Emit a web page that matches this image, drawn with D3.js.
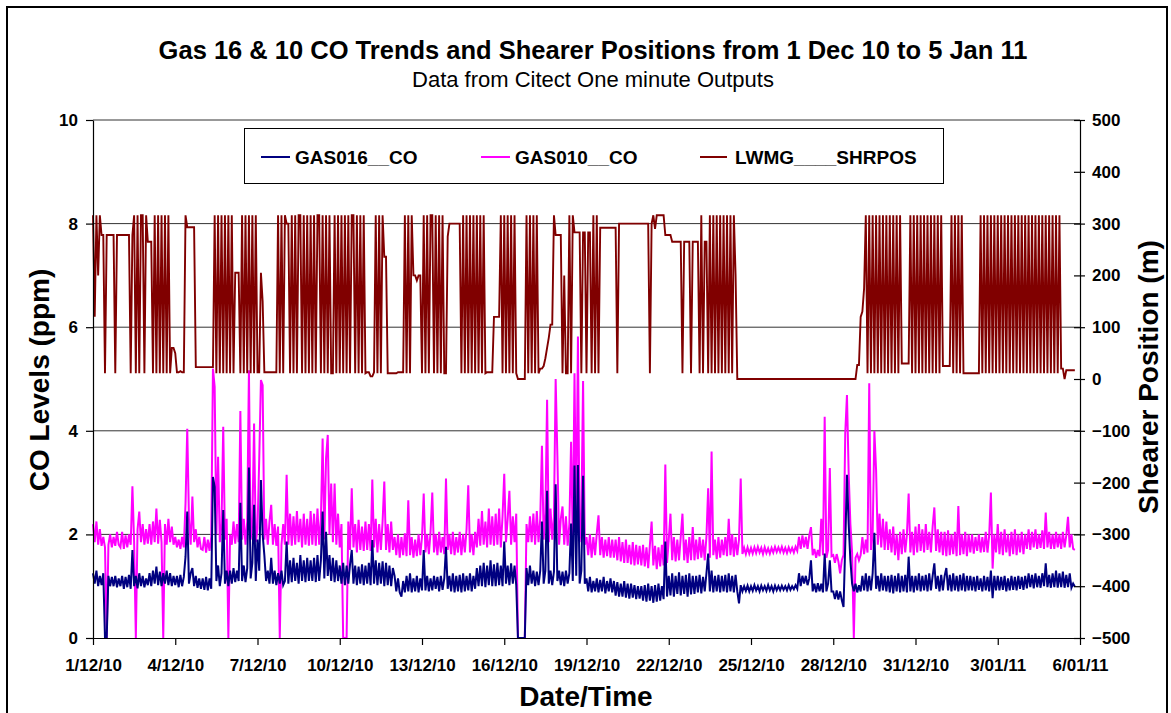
<!DOCTYPE html>
<html><head><meta charset="utf-8">
<script src="https://cdnjs.cloudflare.com/ajax/libs/d3/7.8.5/d3.min.js"></script>
<style>
body{margin:0;background:#fff}
svg text{font-family:"Liberation Sans",Arial,Helvetica,sans-serif}
</style>
</head><body>
<svg id="c" width="1171" height="713"></svg>
<script>
// ---------------- data ----------------
const titleText = "Gas 16 & 10 CO Trends and Shearer Positions from 1 Dec 10 to 5 Jan 11";
const subtitleText = "Data from Citect One minute Outputs";
const seriesNames = ["GAS016__CO", "GAS010__CO", "LWMG____SHRPOS"];
const xTickLabels = ["1/12/10","4/12/10","7/12/10","10/12/10","13/12/10","16/12/10","19/12/10","22/12/10","25/12/10","28/12/10","31/12/10","3/01/11","6/01/11"];
const leftTicks = [0,2,4,6,8,10];
const rightTicks = [-500,-400,-300,-200,-100,0,100,200,300,400,500];
const sampleStepMinutes = 90; // readings every 1.5 hours starting 1/12/10 00:00 (16 per day)

// GAS016__CO (ppm), one row per day
const gas016 = [
1.25,1.05,1.3,1.0,1.2,1.02,1.25,0,0,1.2,1.0,1.18,1.0,1.2,0.98,1.15,
1.0,1.2,0.95,1.18,0.98,1.22,0.95,1.7,1.0,1.2,0.96,1.25,1.0,1.2,0.98,1.15,
1.02,1.25,1.0,1.3,1.05,1.38,1.02,1.28,1.0,1.25,1.05,1.3,1.02,1.25,1.0,1.2,
1.02,1.2,0.98,1.22,1.0,1.18,1.57,2.44,1.05,1.25,1.35,1.0,1.2,0.97,1.15,0.95,
1.15,0.93,1.18,0.92,1.15,0.95,3.11,2.92,1.1,1.4,1.0,1.25,2.47,1.05,1.3,1.0,
1.3,1.05,1.35,1.08,1.3,1.1,2.61,1.1,1.4,1.08,1.35,3.29,1.15,1.45,2.57,1.1,
1.9,1.3,3.05,2.0,1.6,1.1,1.3,1.05,1.55,1.05,1.3,1.02,1.25,1.05,1.3,1.02,
1.1,1.86,1.05,1.5,1.08,1.55,1.1,1.45,1.05,1.6,1.1,1.5,1.08,1.55,1.1,1.5,
1.1,1.55,1.08,1.6,1.1,1.5,2.44,1.15,2.05,1.2,1.6,1.1,1.55,1.08,1.5,1.1,
1.4,1.05,1.45,1.02,1.4,1.05,1.42,1.7,1.05,1.4,1.02,1.38,1.05,1.42,1.02,1.4,
1.05,1.45,1.02,1.89,1.05,1.5,1.02,1.45,1.05,1.48,1.0,1.45,1.02,1.4,1.0,1.35,
1.2,0.9,1.15,0.88,0.8,1.1,0.88,1.2,0.9,1.25,0.88,1.15,0.9,1.2,0.88,1.15,
0.92,1.7,0.92,1.2,0.9,1.15,0.92,1.2,0.95,1.18,0.9,1.2,0.93,1.15,1.76,0.95,
1.2,0.9,1.25,0.88,1.2,0.9,1.22,0.88,1.25,0.9,1.2,0.92,1.25,0.9,1.2,0.95,
1.35,1.0,1.4,1.0,1.45,0.98,1.4,1.02,1.5,1.0,1.42,1.0,1.45,1.02,1.4,1.0,
1.86,1.05,1.4,1.02,1.44,1.05,1.4,1.02,0,0,0,0,0,1.35,1.02,1.4,
1.05,1.3,1.0,1.28,1.02,1.3,2.25,1.05,1.3,2.84,1.05,1.3,1.02,1.28,2.97,1.1,
1.3,1.02,1.28,1.0,1.3,1.05,1.25,2.21,1.1,3.33,1.2,3.34,1.05,1.3,3.13,1.05,
1.15,0.9,1.18,0.88,1.1,0.9,1.15,0.88,1.12,0.9,1.18,0.86,1.1,0.9,1.15,0.88,
1.1,0.82,1.08,0.8,1.05,0.8,1.1,0.78,1.05,0.76,1.05,0.78,1.02,0.75,1.0,0.76,
1.0,0.72,1.02,0.7,1.05,0.72,1.0,0.68,1.02,0.7,1.05,0.72,1.0,0.75,1.86,0.8,
1.2,0.82,1.25,0.8,1.2,0.85,1.27,0.82,1.2,0.85,1.22,0.8,1.25,0.84,1.2,0.85,
1.2,0.88,1.22,0.86,1.18,0.9,1.25,1.63,0.9,1.3,0.88,1.2,0.9,1.22,0.88,1.2,
0.9,1.22,0.88,1.25,0.9,1.2,0.88,1.22,0.9,0.67,1.02,0.9,1.0,0.91,1.01,0.9,
1.0,0.91,1.02,0.92,1.0,0.9,1.01,0.92,1.0,0.91,1.02,0.92,1.0,0.9,1.01,0.92,
1.0,0.92,1.01,0.93,1.0,0.92,1.02,0.93,1.0,0.94,1.02,0.95,1.25,1.0,1.2,1.05,
1.2,1.02,1.15,1.5,0.9,1.05,0.88,1.06,0.9,1.05,0.88,1.63,0.9,1.05,1.5,0.9,
0.9,0.75,0.92,0.74,0.9,0.73,0.6,1.8,3.15,2.2,1.5,1.05,0.9,1.05,0.88,1.02,
0.9,1.2,0.92,1.25,0.9,1.2,0.92,1.25,2.03,0.95,1.2,0.9,1.25,0.92,1.2,0.9,
1.2,0.88,1.22,0.86,1.2,0.9,1.25,0.88,1.2,0.9,1.22,0.88,1.57,0.9,1.2,0.88,
1.2,0.92,1.25,0.9,1.2,0.92,1.22,0.9,1.25,0.92,1.2,1.44,0.95,1.2,0.9,1.22,
0.92,1.2,1.35,0.92,1.22,0.9,1.25,0.92,1.2,0.9,1.22,0.92,1.25,0.9,1.2,0.92,
1.2,0.92,1.18,0.9,1.2,0.93,1.15,0.9,1.2,0.92,1.18,0.9,1.3,0.77,1.2,0.92,
1.2,0.92,1.18,0.93,1.2,0.9,1.15,0.92,1.2,0.93,1.18,0.92,1.2,0.95,1.18,0.93,
1.2,0.96,1.25,0.98,1.22,0.96,1.25,0.98,1.2,0.97,1.25,1.0,1.44,0.98,1.22,0.97,
1.25,0.98,1.3,0.97,1.25,0.98,1.28,0.97,1.22,0.98,1.25,0.97,1.05,0.99
];

// GAS010__CO (ppm), one row per day
const gas010 = [
2.2,1.85,2.25,1.8,2.1,1.78,1.95,1.75,0,1.8,2.0,1.75,1.95,1.78,2.05,1.8,
1.75,2.05,1.72,1.98,1.75,2.0,1.8,2.93,1.85,0,2.1,2.44,1.85,2.2,1.8,2.1,
1.82,2.2,1.8,2.25,1.85,2.5,1.82,2.28,1.85,0,2.2,1.8,2.3,1.85,2.15,1.8,
1.95,1.75,1.9,1.72,1.95,1.75,2.6,4.04,2.3,1.8,2.73,1.85,2.1,1.75,1.95,1.72,
1.7,1.95,1.65,1.9,1.68,1.95,5.2,4.85,2.0,3.5,1.85,2.2,4.08,1.9,2.3,0,
2.0,1.8,2.25,1.82,2.2,1.85,4.38,1.9,2.3,1.8,2.25,5.17,1.9,2.2,4.14,1.85,
2.1,3.44,4.98,4.88,1.9,2.3,1.8,2.25,2.57,1.8,2.2,1.78,2.15,0,1.8,2.2,
1.8,3.15,1.8,2.4,1.78,2.35,1.8,2.45,1.85,2.3,1.75,2.4,1.8,2.3,1.78,2.45,
1.8,2.4,1.78,2.5,1.8,2.3,3.85,1.9,3.47,3.92,2.0,2.98,1.85,2.98,1.8,2.4,
1.75,2.2,0,0,0,2.25,1.7,2.89,1.75,2.2,1.65,2.28,1.7,2.15,1.68,2.25,
1.7,2.2,1.68,3.06,1.75,2.3,1.65,2.2,1.7,2.25,3.02,1.7,2.2,1.65,2.25,1.7,
1.95,1.6,2.0,1.55,1.95,1.6,2.02,1.58,2.66,1.6,1.95,1.55,1.9,1.58,2.0,1.6,
1.95,2.79,1.65,2.0,1.62,2.05,2.81,1.65,2.0,1.6,2.05,1.65,1.95,1.62,3.08,1.7,
2.0,1.62,2.05,1.6,1.95,1.65,2.05,1.6,2.0,1.65,2.1,2.95,1.65,2.0,1.6,2.05,
1.75,2.3,1.78,2.45,1.8,2.25,1.75,2.5,1.8,2.35,1.78,2.4,1.8,2.5,1.75,2.35,
3.17,1.85,2.3,2.84,1.8,2.35,1.85,2.4,0,0,0,0,0,2.2,1.85,2.35,
1.85,2.4,1.8,2.45,1.85,2.3,3.71,1.9,2.4,4.6,1.85,2.5,1.9,2.35,5.0,3.53,
1.8,2.3,2.54,1.8,2.35,1.78,2.2,3.79,1.85,5.11,2.0,5.82,1.85,2.3,4.96,1.8,
1.95,1.6,2.0,1.55,1.95,1.6,2.02,2.37,1.6,1.95,1.55,1.9,1.58,1.95,1.55,1.9,
1.55,1.9,1.5,1.95,1.48,1.85,1.45,1.9,1.45,1.8,1.42,1.85,1.4,1.8,1.42,1.78,
1.4,1.8,1.38,1.75,1.35,1.8,2.25,1.4,1.78,1.33,1.75,1.38,1.8,1.4,3.35,1.45,
1.9,2.4,1.5,1.95,1.48,1.9,1.5,1.95,2.4,1.5,1.9,1.45,1.95,1.5,2.14,1.5,
1.9,1.52,1.95,1.55,1.9,1.5,1.96,2.89,1.55,3.6,1.6,1.9,1.52,1.95,1.55,1.9,
1.6,1.95,1.58,2.3,1.6,2.0,1.57,1.95,1.6,1.9,3.08,1.62,1.74,1.62,1.75,1.63,
1.74,1.63,1.75,1.64,1.76,1.65,1.74,1.62,1.75,1.64,1.73,1.63,1.74,1.65,1.76,1.66,
1.75,1.66,1.76,1.65,1.74,1.64,1.75,1.66,1.74,1.65,1.76,1.68,1.95,1.72,1.98,1.75,
1.95,1.72,1.98,2.14,1.6,1.72,1.55,1.7,1.58,2.3,1.6,4.27,1.55,1.7,3.28,1.58,
1.6,1.45,1.62,1.48,1.25,1.5,1.6,3.95,4.69,3.18,2.2,1.65,0,1.55,1.62,1.5,
1.6,1.95,1.62,1.9,1.65,4.92,1.7,2.0,4.0,3.24,1.8,2.4,1.75,2.3,1.7,2.25,
1.7,2.1,1.65,2.15,1.6,2.0,1.5,2.05,1.62,2.1,1.65,2.0,2.79,1.65,2.05,1.6,
2.15,1.65,2.2,1.68,2.1,1.65,2.2,1.7,2.05,1.65,2.15,2.52,1.68,2.1,1.65,2.05,
1.6,2.05,1.58,2.08,1.6,2.0,1.62,2.05,1.58,2.55,1.6,2.0,1.62,2.05,1.58,2.0,
1.65,2.0,1.63,1.95,1.68,2.0,1.65,1.95,1.66,2.05,1.65,1.98,2.81,1.34,2.0,1.65,
2.2,1.62,2.05,1.6,2.1,1.65,2.0,1.58,2.05,1.62,2.1,1.6,2.0,1.65,2.05,1.62,
2.0,1.72,2.1,1.7,2.05,1.75,2.1,1.72,2.0,1.74,2.08,1.72,2.42,1.75,2.05,1.72,
2.0,1.72,2.05,1.75,2.0,1.72,2.05,1.75,1.98,2.34,1.75,2.0,1.72,1.7
];

// LWMG____SHRPOS (m), one row per day
const shrpos = [
316,120,316,200,316,278,278,11,278,278,278,278,278,11,278,278,
278,278,278,278,278,278,11,278,316,11,316,11,316,316,11,316,
265,265,265,11,316,11,316,11,316,11,316,11,316,11,60,60,
50,13,13,15,13,13,316,293,293,293,293,293,23,23,23,23,
23,23,23,23,23,23,23,316,11,316,11,316,11,316,11,316,
11,316,11,205,205,205,11,316,11,316,11,316,11,316,11,316,
13,13,205,150,13,13,13,13,13,13,13,13,316,11,316,11,
316,300,300,11,316,11,316,11,316,316,11,316,11,316,11,316,
11,316,11,316,316,11,316,11,316,11,316,11,11,316,11,316,
11,316,11,316,11,316,11,316,316,11,316,11,316,11,316,11,
13,13,5,5,13,316,11,316,11,316,236,236,11,11,11,11,
11,11,13,13,13,13,316,11,316,11,316,200,200,190,200,200,
11,316,11,316,11,316,316,11,316,11,316,11,316,11,11,275,
300,300,300,300,300,300,300,11,316,11,316,11,316,11,316,11,
316,11,316,11,316,11,13,13,13,13,120,120,120,120,316,11,
316,11,316,11,316,11,316,11,0,0,0,0,0,316,11,316,
11,316,11,316,11,20,20,25,40,60,80,105,105,316,278,278,
278,278,11,200,11,11,316,11,316,283,283,283,283,11,283,283,
11,283,283,11,316,11,316,11,292,292,292,292,292,292,292,292,
292,292,11,300,300,300,300,300,300,300,300,300,300,300,300,300,
300,300,300,300,300,11,300,316,290,316,316,316,316,316,278,278,
278,278,265,265,265,265,265,265,11,265,265,265,265,11,265,265,
265,265,11,316,11,265,265,11,316,11,316,11,316,11,316,11,
316,11,316,11,316,11,316,200,0,0,0,0,0,0,0,0,
0,0,0,0,0,0,0,0,0,0,0,0,0,0,0,0,
0,0,0,0,0,0,0,0,0,0,0,0,0,0,0,0,
0,0,0,0,0,0,0,0,0,0,0,0,0,0,0,0,
0,0,0,0,0,0,0,0,0,0,0,0,0,0,27,27,
120,130,175,316,11,316,11,316,11,316,11,316,11,316,11,316,
11,316,11,316,11,316,11,316,30,30,30,30,30,316,11,316,
11,316,11,316,11,316,11,316,11,316,11,316,11,316,11,316,
25,25,25,25,25,316,11,316,11,316,11,316,11,11,11,11,
11,11,11,11,11,11,316,11,316,11,316,11,316,11,316,11,
316,11,316,11,316,11,316,11,316,11,316,11,316,11,316,11,
316,11,316,11,316,11,316,11,316,11,316,11,316,11,316,11,
316,11,316,11,316,20,20,0,17,17,17,17,17,17
];

const colors = {gas016:"#000080", gas010:"#FF00FF", shrpos:"#800000"};

// ---------------- chart ----------------
const svg = d3.select("#c");
const parseDate = d3.utcParse("%d/%m/%y");
const xTickDates = xTickLabels.map(parseDate);
const t0 = xTickDates[0].getTime();
const stepMs = sampleStepMinutes*60*1000;

const plot = {left:93, right:1080, top:120, bottom:638};
const x = d3.scaleUtc().domain([xTickDates[0], xTickDates[xTickDates.length-1]]).range([plot.left, plot.right]);
const yL = d3.scaleLinear().domain([0,10]).range([plot.bottom, plot.top]);
const yR = d3.scaleLinear().domain([-500,500]).range([plot.bottom, plot.top]);

// outer frame
svg.append("rect").attr("x",7).attr("y",7).attr("width",1160).attr("height",730)
  .attr("fill","#fff").attr("stroke","#000").attr("stroke-width",2);

// titles
svg.append("text").attr("x",593).attr("y",59).attr("text-anchor","middle")
  .attr("font-size",25.5).attr("font-weight","bold").text(titleText);
svg.append("text").attr("x",593).attr("y",87).attr("text-anchor","middle")
  .attr("font-size",22).text(subtitleText);

// gridlines
svg.append("g").selectAll("line").data(leftTicks.filter(d=>d>0)).join("line")
  .attr("x1",plot.left).attr("x2",plot.right)
  .attr("y1",d=>yL(d)).attr("y2",d=>yL(d))
  .attr("stroke","#333").attr("stroke-width",1);

// series
function lineFor(arr, y){
  return d3.line().x((d,i)=>x(new Date(t0 + i*stepMs))).y(d=>y(d))(arr);
}
const gLines = svg.append("g");
gLines.append("path").attr("d",lineFor(gas010,yL)).attr("fill","none")
  .attr("stroke",colors.gas010).attr("stroke-width",2);
gLines.append("path").attr("d",lineFor(gas016,yL)).attr("fill","none")
  .attr("stroke",colors.gas016).attr("stroke-width",2);
gLines.append("path").attr("d",lineFor(shrpos,yR)).attr("fill","none")
  .attr("stroke",colors.shrpos).attr("stroke-width",1.9);

// axes
function styleAxis(g){
  g.selectAll("path.domain").attr("stroke","#000").attr("stroke-width",1.2);
  g.selectAll(".tick line").attr("stroke","#000").attr("stroke-width",1.2);
  g.selectAll(".tick text").attr("font-size",17).attr("font-weight","bold")
    .attr("font-family","'Liberation Sans',Arial,sans-serif").attr("fill","#000");
}
const axL = svg.append("g").attr("transform",`translate(${plot.left},0)`)
  .call(d3.axisLeft(yL).tickValues(leftTicks).tickSize(7).tickPadding(8).tickSizeOuter(0));
styleAxis(axL);
const axR = svg.append("g").attr("transform",`translate(${plot.right},0)`)
  .call(d3.axisRight(yR).tickValues(rightTicks).tickSize(5).tickPadding(7).tickSizeOuter(0));
axR.selectAll(".tick line").attr("x1",-6);
styleAxis(axR);
const axB = svg.append("g").attr("transform",`translate(0,${plot.bottom})`)
  .call(d3.axisBottom(x).tickValues(xTickDates).tickFormat((d,i)=>xTickLabels[i]).tickSize(7).tickPadding(14).tickSizeOuter(0));
styleAxis(axB);

// axis titles
svg.append("text").attr("transform","translate(49,380) rotate(-90)").attr("text-anchor","middle")
  .attr("font-size",28).attr("font-weight","bold").text("CO Levels (ppm)");
svg.append("text").attr("transform","translate(1158,377) rotate(-90)").attr("text-anchor","middle")
  .attr("font-size",28).attr("font-weight","bold").text("Shearer Position (m)");
svg.append("text").attr("x",586).attr("y",706).attr("text-anchor","middle")
  .attr("font-size",28).attr("font-weight","bold").text("Date/Time");

// legend
const lg = svg.append("g");
lg.append("rect").attr("x",244.5).attr("y",128.5).attr("width",699).attr("height",55)
  .attr("fill","#fff").attr("stroke","#000").attr("stroke-width",1);
const legendItems = [
  {name:seriesNames[0], color:colors.gas016, x1:261, x2:290, tx:295},
  {name:seriesNames[1], color:colors.gas010, x1:481, x2:510, tx:515},
  {name:seriesNames[2], color:colors.shrpos, x1:700, x2:727, tx:735}
];
legendItems.forEach(it=>{
  lg.append("line").attr("x1",it.x1).attr("x2",it.x2).attr("y1",157).attr("y2",157)
    .attr("stroke",it.color).attr("stroke-width",2);
  lg.append("text").attr("x",it.tx).attr("y",164).attr("font-size",19).attr("font-weight","bold").text(it.name);
});
</script>
</body></html>
